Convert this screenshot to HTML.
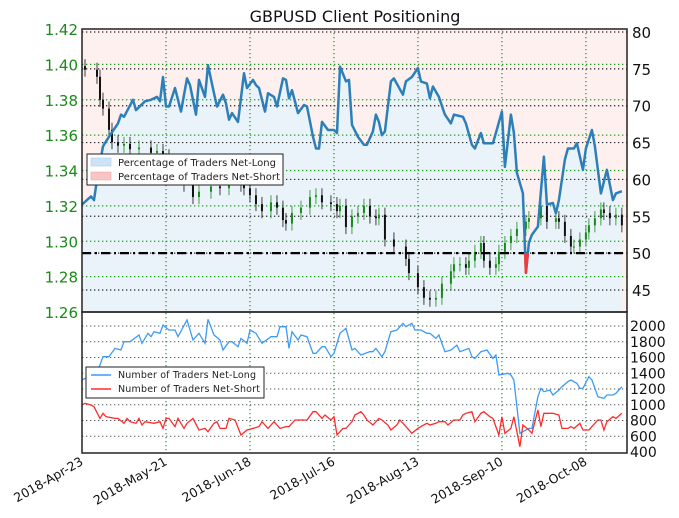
<!DOCTYPE html>
<html><head><meta charset="utf-8"><style>
body{margin:0;background:#fff;}
svg{display:block;font-family:"DejaVu Sans","Liberation Sans",sans-serif;}
</style></head><body>
<svg id="chart" width="679" height="518" viewBox="0 0 679 518">
<defs>
<clipPath id="topClip"><rect x="82" y="29" width="545" height="283"/></clipPath>
<clipPath id="redClip"><rect x="82" y="253" width="545" height="59"/></clipPath>
<clipPath id="botClip"><rect x="82" y="312" width="545" height="141"/></clipPath>
</defs>
<text x="355" y="22" text-anchor="middle" font-size="16" fill="#111">GBPUSD Client Positioning</text>
<g id="g"></g>
</svg>
<script>
// ---- data ----
const dateTicks = ["2018-Apr-23","2018-May-21","2018-Jun-18","2018-Jul-16","2018-Aug-13","2018-Sep-10","2018-Oct-08"];
const dateTickDays = [0,28,56,84,112,140,168];
const priceTicks = [1.26,1.28,1.30,1.32,1.34,1.36,1.38,1.40,1.42];
const pctTicks = [45,50,55,60,65,70,75,80];
const countTicks = [400,600,800,1000,1200,1400,1600,1800,2000];
const pctDays = [0,3,4,5,7,9,12,13,14,17,18,21,23,25,26,27,28,29,31,33,35,36,38,39,41,42,44,45,47,48,49,50,52,54,55,57,58,59,61,62,64,65,67,68,69,70,72,74,75,77,78,79,80,82,84,85,86,88,89,90,92,94,95,97,98,99,100,101,103,104,107,108,110,112,113,115,116,117,119,121,123,124,127,128,130,131,133,134,137,138,140,141,143,144,145,147,148,149,150,152,154,155,157,158,159,161,162,164,165,167,168,170,171,173,175,177,178,180];
const pctLong = [56.6,57.7,57.2,60.0,64.5,65.8,67.6,68.8,68.5,70.8,69.4,70.6,70.8,71.2,70.6,73.9,69.9,69.9,72.4,69.2,73.7,72.8,68.8,73.5,71.2,75.5,71.7,69.9,71.5,70.3,68.1,69.0,67.8,74.4,72.4,73.5,72.8,72.4,69.2,71.7,71.2,69.9,73.7,73.5,71.0,72.1,69.0,70.1,69.9,65.8,64.2,64.2,67.8,66.7,66.7,66.3,75.3,73.3,73.5,67.4,65.8,64.7,64.7,66.5,68.8,67.8,66.0,66.5,73.3,73.7,71.5,73.3,73.9,75.1,73.3,73.0,71.0,72.6,71.2,68.8,67.6,68.8,68.5,67.6,64.7,64.2,66.3,64.9,64.9,66.3,69.2,61.7,68.8,66.3,60.9,58.1,47.3,51.4,52.5,53.6,63.1,56.6,56.8,55.4,57.2,62.7,64.2,64.2,64.9,61.3,64.2,66.7,64.5,58.1,61.3,57.2,58.1,58.4];
const priceDays = [1,5,6,7,9,10,12,14,16,19,23,25,27,29,30,32,34,37,39,43,46,49,53,54,56,58,60,63,65,67,68,70,73,76,78,80,83,85,86,88,90,92,94,96,98,99,101,104,108,109,112,114,116,118,120,123,124,126,128,129,131,133,134,136,138,139,141,143,145,148,149,153,155,158,159,161,163,164,166,168,169,171,173,174,176,178,180];
const priceClose = [1.397,1.393,1.380,1.375,1.363,1.356,1.354,1.355,1.352,1.353,1.350,1.351,1.348,1.345,1.340,1.336,1.332,1.325,1.328,1.331,1.330,1.333,1.332,1.330,1.326,1.321,1.317,1.322,1.319,1.312,1.310,1.316,1.319,1.325,1.326,1.322,1.321,1.317,1.320,1.308,1.314,1.316,1.320,1.314,1.313,1.315,1.301,1.297,1.290,1.282,1.274,1.268,1.267,1.268,1.276,1.283,1.287,1.287,1.285,1.289,1.294,1.299,1.289,1.285,1.287,1.294,1.299,1.303,1.307,1.311,1.313,1.320,1.311,1.313,1.311,1.303,1.297,1.297,1.301,1.305,1.309,1.313,1.318,1.316,1.313,1.315,1.309];
const longDays = [0,1,4,6,7,9,11,13,14,16,19,20,22,23,24,26,27,29,31,32,35,37,39,41,42,44,46,47,49,50,52,53,55,56,58,60,63,65,66,68,69,70,72,73,75,77,78,80,81,83,84,86,88,90,91,93,96,97,98,100,101,103,105,107,108,110,111,113,115,116,118,119,121,123,125,126,129,130,131,133,135,137,138,139,142,143,144,146,147,149,150,152,153,154,156,157,159,160,162,163,165,166,167,169,170,172,174,175,177,178,180];
const longCount = [1314,1335,1356,1505,1610,1610,1716,1695,1801,1801,1886,1780,1907,1864,1928,1907,2012,1949,1949,1864,2076,1822,1907,1780,2085,1886,1822,1695,1801,1801,1737,1843,1780,1949,1907,1780,1864,1864,1991,1991,1716,1928,1822,1886,1864,1653,1653,1737,1737,1610,1653,1907,1970,1695,1716,1632,1674,1674,1716,1610,1674,1928,1949,2034,1991,2034,1949,1949,1907,1907,1843,1886,1674,1695,1758,1674,1716,1610,1589,1674,1695,1589,1632,1378,1399,1378,1314,637,658,700,700,1102,1208,1166,1187,1124,1187,1229,1293,1314,1272,1208,1208,1356,1314,1102,1081,1124,1124,1145,1229];
const shortDays = [0,1,3,4,6,7,8,11,12,14,15,16,18,19,20,21,24,26,27,28,29,31,32,34,35,37,39,41,42,44,45,46,48,49,51,53,55,57,59,60,62,64,66,68,69,71,73,75,77,78,80,81,83,84,85,87,88,90,91,93,94,95,97,99,100,102,103,105,106,108,110,112,113,115,116,118,119,121,122,124,126,127,128,130,131,133,134,136,137,139,140,141,143,144,146,147,149,150,152,153,154,156,157,159,160,162,163,164,166,167,169,170,172,173,174,175,177,178,180];
const shortCount = [997,1018,997,975,827,891,848,827,827,764,827,785,764,827,743,785,764,785,700,827,827,722,827,700,764,827,679,700,658,764,785,700,700,827,806,616,679,700,722,785,700,785,700,722,722,806,806,806,912,912,827,870,806,848,616,700,700,785,870,912,870,806,743,827,806,743,679,743,806,722,637,700,722,764,743,764,785,785,743,806,806,870,891,912,785,891,912,848,827,616,848,637,700,848,467,743,679,637,933,722,891,891,891,870,700,700,722,700,764,679,679,722,806,806,679,785,848,827,891];

// ---- axes ----
const X0=82, X1=627, DAYSPAN=181.7;
const xDay = d => X0 + d*(X1-X0)/DAYSPAN;
const yPrice = p => 29 + (1.42-p)/0.16*283;
const yPct = v => 32 + (80-v)*(258/35);
const yCnt = v => 326 + (2000-v)*(126/1600);
const NS="http://www.w3.org/2000/svg";
const g=document.getElementById('g');
function mk(tag, attrs, parent){const e=document.createElementNS(NS,tag);for(const k in attrs)e.setAttribute(k,attrs[k]);(parent||g).appendChild(e);return e;}

// backgrounds
let bg=mk('rect',{x:X0,y:29,width:X1-X0,height:283,fill:'#fdf0ee'});


let pts=pctDays.map((d,i)=>xDay(d).toFixed(1)+','+yPct(pctLong[i]).toFixed(1));
const xFirst=xDay(pctDays[0]).toFixed(1), xLast=xDay(pctDays[pctDays.length-1]).toFixed(1);
let area=mk('polygon',{points:xFirst+',312 '+pts.join(' ')+' '+xLast+',312',fill:'#ebf3fa','clip-path':'url(#topClip)'});



// grids
pctTicks.forEach(v=>{const y=yPct(v);if(y>30&&y<311){let l=mk('line',{x1:X0,x2:X1,y1:y,y2:y,stroke:'#222','stroke-width':1.2,'stroke-dasharray':'1.3,2.7'});

}});
priceTicks.forEach(v=>{const y=yPrice(v);if(y>30&&y<311){let l=mk('line',{x1:X0,x2:X1,y1:y,y2:y,stroke:'#1a9a1a','stroke-width':1.2,'stroke-dasharray':'1.3,2.7'});

}});
countTicks.forEach(v=>{const y=yCnt(v);if(y>313&&y<452){let l=mk('line',{x1:X0,x2:X1,y1:y,y2:y,stroke:'#555','stroke-width':1,'stroke-dasharray':'1.3,2.7'});

}});
dateTickDays.forEach(d=>{const x=xDay(d);if(x>X0+1){let l=mk('line',{x1:x,x2:x,y1:29,y2:453,stroke:'#1a9a1a','stroke-width':1.2,'stroke-dasharray':'1.3,2.7'});

}});

// candles
priceDays.forEach((d,i)=>{
  const c=priceClose[i], o=i>0?priceClose[i-1]:c+0.002;
  const up=c>=o, col=up?'#178a17':'#111';
  const x=xDay(d);
  let w=mk('line',{x1:x,x2:x,y1:yPrice(Math.max(o,c)+0.004),y2:yPrice(Math.min(o,c)-0.004),stroke:col,'stroke-width':0.8});
  
  
  let b=mk('rect',{x:x-1,y:yPrice(Math.max(o,c)),width:2,height:Math.max(1,Math.abs(yPrice(o)-yPrice(c))),fill:col});
  
  
});

// 50% line
let fifty=mk('line',{x1:X0,x2:X1,y1:yPct(50),y2:yPct(50),stroke:'#000','stroke-width':2.2,'stroke-dasharray':'9,4,2,4'});



// pct line
let pl=mk('polyline',{points:pts.join(' '),fill:'none',stroke:'#2c7fb8','stroke-width':2.5,'stroke-linejoin':'round','clip-path':'url(#topClip)'});


let pr=mk('polyline',{points:pts.join(' '),fill:'none',stroke:'#f03b3b','stroke-width':2.5,'clip-path':'url(#redClip)'});



// bottom lines
let lp=longDays.slice(0,longCount.length).map((d,i)=>xDay(d).toFixed(1)+','+yCnt(longCount[i]).toFixed(1));
let ll=mk('polyline',{points:lp.join(' '),fill:'none',stroke:'#3b9cf5','stroke-width':1.3,'clip-path':'url(#botClip)'});


let n=Math.min(shortDays.length,shortCount.length);
let sp=shortDays.slice(0,n).map((d,i)=>xDay(d).toFixed(1)+','+yCnt(shortCount[i]).toFixed(1));
let sl=mk('polyline',{points:sp.join(' '),fill:'none',stroke:'#ff2b2b','stroke-width':1.3,'clip-path':'url(#botClip)'});



// frames
let f1=mk('rect',{x:X0,y:29,width:X1-X0,height:283,fill:'none',stroke:'#222','stroke-width':1.5});


let f2=mk('rect',{x:X0,y:312,width:X1-X0,height:141,fill:'none',stroke:'#222','stroke-width':1.5});



// tick labels
priceTicks.forEach(v=>{let t=mk('text',{x:78,y:yPrice(v)+6,'text-anchor':'end','font-size':15,fill:'#1a8a1a'});t.textContent=v.toFixed(2);

});
pctTicks.forEach(v=>{let t=mk('text',{x:632,y:yPct(v)+6,'font-size':15,fill:'#111'});t.textContent=v;

});
countTicks.forEach(v=>{let t=mk('text',{x:630,y:yCnt(v)+5,'font-size':14,fill:'#111'});t.textContent=v;

});
dateTicks.forEach((s,i)=>{const x=xDay(dateTickDays[i]);
let t=mk('text',{x:x+2,y:464,'text-anchor':'end','font-size':12.5,fill:'#111',transform:'rotate(-30 '+(x+2)+' 464)'});t.textContent=s;

});

// legends
let lg=mk('g',{});


mk('rect',{x:87,y:154,width:196,height:31,fill:'#fff',stroke:'#222','stroke-width':1},lg);
mk('rect',{x:91,y:158,width:20,height:8,fill:'#cfe3f7',stroke:'#9cc5ee','stroke-width':0.5},lg);
mk('rect',{x:91,y:172,width:20,height:8,fill:'#f9c4c4',stroke:'#f29a9a','stroke-width':0.5},lg);
let t1=mk('text',{x:118,y:166,'font-size':10,fill:'#222',textLength:158},lg);t1.textContent='Percentage of Traders Net-Long';
let t2=mk('text',{x:118,y:180,'font-size':10,fill:'#222',textLength:162},lg);t2.textContent='Percentage of Traders Net-Short';
let lg2=mk('g',{});


mk('rect',{x:86,y:367,width:178,height:31,fill:'#fff',stroke:'#222','stroke-width':1},lg2);
mk('line',{x1:91,x2:111,y1:375,y2:375,stroke:'#3b9cf5','stroke-width':1.5},lg2);
mk('line',{x1:91,x2:111,y1:389,y2:389,stroke:'#ff2b2b','stroke-width':1.5},lg2);
let t3=mk('text',{x:118,y:378,'font-size':9.5,fill:'#222',textLength:138},lg2);t3.textContent='Number of Traders Net-Long';
let t4=mk('text',{x:118,y:392,'font-size':9.5,fill:'#222',textLength:142},lg2);t4.textContent='Number of Traders Net-Short';
</script>
</body></html>
